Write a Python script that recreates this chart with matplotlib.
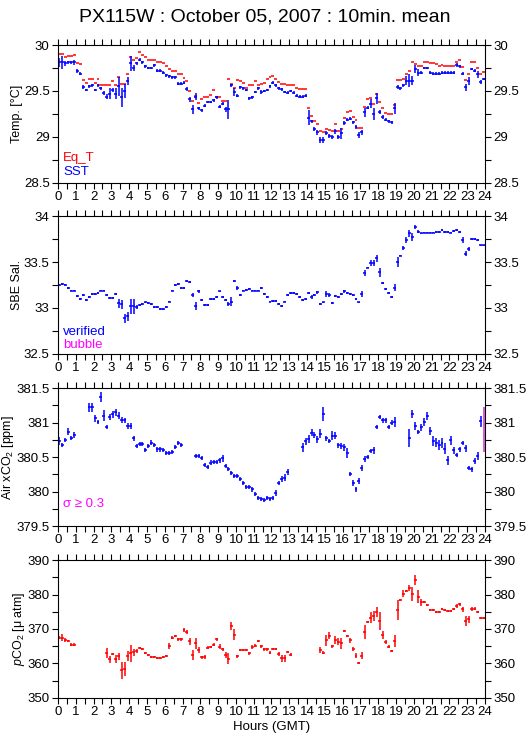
import numpy as np
import matplotlib
matplotlib.use("Agg")
import matplotlib.pyplot as plt
from matplotlib.ticker import MultipleLocator, FuncFormatter

plt.rcParams['font.family'] = ['Liberation Sans', 'DejaVu Sans']
plt.rcParams['mathtext.fontset'] = 'custom'
plt.rcParams['mathtext.rm'] = 'Liberation Sans'
plt.rcParams['mathtext.it'] = 'Liberation Sans:italic'

nan = np.nan

# 10 minute bins, one row per hour
hours = (np.arange(144) + 0.5) / 6.0

eq_t = [
    29.90, 29.90, 29.87, 29.88, 29.88, 29.89,
    29.80, 29.79, 29.62, 29.59, 29.63, 29.63,
    29.59, 29.63, 29.57, 29.56, 29.56, 29.56,
    29.61, 29.56, 29.65, 29.58, 29.58, 29.69,
    29.87, 29.84, 29.86, 29.92, 29.89, 29.87,
    29.84, 29.84, 29.84, 29.82, 29.81, 29.80,
    29.77, 29.74, 29.72, 29.72, 29.68, 29.69,
    29.64, 29.61, 29.50, 29.39, 29.45, 29.37,
    29.41, 29.43, 29.44, 29.46, 29.51, 29.43,
    29.43, 29.39, 29.39, 29.63, 29.58, 29.53,
    29.62, 29.61, 29.59, 29.53, 29.56, 29.56,
    29.61, 29.57, 29.58, 29.59, 29.63, 29.65,
    29.66, 29.63, 29.60, 29.58, 29.58, 29.56,
    29.57, 29.56, 29.53, 29.52, 29.52, 29.52,
    29.31, 29.23, 29.17, 29.14, 29.06, 29.05,
    29.09, 29.08, 29.07, 29.14, 29.07, 29.09,
    29.21, 29.27, 29.28, 29.22, 29.19, 29.10,
    29.10, 29.33, 29.41, 29.42, 29.36, 29.47,
    29.38, 29.31, 29.26, 29.25, 29.25, 29.35,
    29.62, 29.62, 29.63, 29.68, 29.72, 29.81,
    29.79, 29.77, 29.77, 29.82, 29.82, 29.80,
    29.80, 29.79, 29.77, 29.78, 29.77, 29.77,
    29.77, 29.77, 29.81, 29.84, 29.76, 29.62,
    29.69, 29.81, 29.81, 29.75, 29.68, 29.71,
]

sst = [
    29.81, 29.81, 29.80, 29.81, 29.81, 29.81,
    29.72, 29.69, 29.54, 29.51, 29.55, 29.56,
    29.51, 29.56, 29.53, 29.48, 29.44, 29.47,
    29.51, 29.47, 29.55, 29.43, 29.50, 29.61,
    29.80, 29.75, 29.80, 29.84, 29.81, 29.77,
    29.75, 29.75, 29.78, 29.72, 29.72, 29.70,
    29.67, 29.66, 29.65, 29.65, 29.58, 29.58,
    29.59, 29.52, 29.41, 29.30, 29.44, 29.31,
    29.29, 29.34, 29.38, 29.38, 29.40, 29.43,
    29.33, 29.36, 29.30, 29.30, 29.56, 29.49,
    29.45, 29.54, 29.53, 29.51, 29.42, 29.43,
    29.49, 29.53, 29.49, 29.50, 29.51, 29.55,
    29.59, 29.56, 29.53, 29.52, 29.49, 29.48,
    29.50, 29.48, 29.45, 29.44, 29.44, 29.45,
    29.21, 29.17, 29.09, 29.05, 28.97, 28.97,
    29.04, 29.01, 29.00, 29.06, 29.00, 29.04,
    29.15, 29.19, 29.20, 29.16, 29.11, 29.02,
    29.05, 29.27, 29.32, 29.36, 29.25, 29.42,
    29.27, 29.22, 29.19, 29.17, 29.16, 29.31,
    29.54, 29.53, 29.56, 29.61, 29.61, 29.61,
    29.74, 29.70, 29.70, 29.75, 29.75, 29.70,
    29.69, 29.69, 29.69, 29.70, 29.70, 29.70,
    29.70, 29.70, 29.78, 29.77, 29.69, 29.54,
    29.61, 29.74, 29.72, 29.68, 29.60, 29.63,
]

sst_err = [
    0.05, 0.07, 0.03, 0.015, 0.015, 0.03,
    0.02, 0.02, 0.02, 0.015, 0.015, 0.015,
    0.015, 0.015, 0.015, 0.02, 0.03, 0.06,
    0.02, 0.06, 0.10, 0.10, 0.08, 0.04,
    0.08, 0.03, 0.015, 0.015, 0.015, 0.015,
    0.015, 0.015, 0.015, 0.015, 0.015, 0.015,
    0.015, 0.015, 0.015, 0.015, 0.015, 0.015,
    0.015, 0.02, 0.03, 0.05, 0.04, 0.015,
    0.015, 0.015, 0.015, 0.015, 0.015, 0.015,
    0.02, 0.015, 0.03, 0.10, 0.02, 0.04,
    0.02, 0.015, 0.015, 0.015, 0.015, 0.015,
    0.015, 0.015, 0.02, 0.015, 0.015, 0.015,
    0.015, 0.015, 0.015, 0.015, 0.015, 0.015,
    0.015, 0.015, 0.015, 0.015, 0.015, 0.015,
    0.08, 0.015, 0.02, 0.03, 0.03, 0.03,
    0.02, 0.02, 0.02, 0.03, 0.02, 0.06,
    0.02, 0.015, 0.015, 0.015, 0.02, 0.03,
    0.03, 0.05, 0.02, 0.05, 0.06, 0.06,
    0.02, 0.02, 0.015, 0.015, 0.015, 0.06,
    0.02, 0.015, 0.02, 0.05, 0.07, 0.05,
    0.04, 0.04, 0.015, 0.015, 0.015, 0.015,
    0.015, 0.015, 0.015, 0.015, 0.015, 0.015,
    0.015, 0.015, 0.02, 0.015, 0.02, 0.04,
    0.04, 0.015, 0.015, 0.04, 0.02, 0.015,
]

sal = [
    33.25, 33.26, 33.25, 33.22, 33.19, 33.19,
    33.13, 33.10, 33.14, 33.09, 33.12, 33.15,
    33.15, 33.16, 33.19, 33.19, 33.14, 33.11,
    33.11, 33.15, 33.05, 33.04, 32.89, 32.91,
    33.02, 33.02, 33.01, 33.03, 33.04, 33.06,
    33.05, 33.04, 33.01, 33.01, 32.99, 32.99,
    33.01, 33.07, 33.19, 33.25, 33.26, 33.22,
    33.22, 33.29, 33.28, 33.14, 33.02, 33.18,
    33.09, 33.03, 33.03, 33.10, 33.10, 33.12,
    33.18, 33.12, 33.09, 33.04, 33.07, 33.29,
    33.22, 33.14, 33.19, 33.20, 33.21, 33.19,
    33.19, 33.19, 33.22, 33.15, 33.12, 33.07,
    33.08, 33.08, 33.04, 33.02, 33.07, 33.14,
    33.16, 33.16, 33.15, 33.12, 33.09, 33.10,
    33.16, 33.12, 33.14, 33.17, 33.04, 33.06,
    33.15, 33.14, 33.05, 33.13, 33.12, 33.15,
    33.18, 33.16, 33.15, 33.14, 33.10, 33.06,
    33.15, 33.38, 33.44, 33.49, 33.49, 33.54,
    33.39, 33.27, 33.21, 33.16, 33.12, 33.22,
    33.50, 33.57, 33.65, 33.74, 33.81, 33.77,
    33.88, 33.83, 33.81, 33.82, 33.82, 33.82,
    33.82, 33.83, 33.83, 33.85, 33.83, 33.83,
    33.82, 33.84, 33.85, 33.83, 33.74, 33.59,
    33.64, 33.75, 33.75, 33.74, 33.68, 33.68,
]

sal_err = [
    0.01, 0.01, 0.01, 0.01, 0.01, 0.01,
    0.01, 0.01, 0.01, 0.01, 0.01, 0.01,
    0.01, 0.01, 0.01, 0.01, 0.01, 0.01,
    0.01, 0.01, 0.05, 0.05, 0.05, 0.05,
    0.08, 0.08, 0.02, 0.01, 0.01, 0.01,
    0.01, 0.01, 0.01, 0.01, 0.01, 0.01,
    0.01, 0.01, 0.01, 0.01, 0.01, 0.01,
    0.01, 0.01, 0.01, 0.02, 0.04, 0.02,
    0.01, 0.01, 0.01, 0.01, 0.01, 0.01,
    0.01, 0.01, 0.01, 0.02, 0.05, 0.01,
    0.02, 0.01, 0.01, 0.01, 0.01, 0.01,
    0.01, 0.01, 0.01, 0.01, 0.01, 0.01,
    0.01, 0.01, 0.01, 0.01, 0.01, 0.01,
    0.01, 0.01, 0.01, 0.01, 0.01, 0.01,
    0.01, 0.02, 0.01, 0.02, 0.01, 0.01,
    0.03, 0.02, 0.01, 0.01, 0.01, 0.01,
    0.02, 0.01, 0.01, 0.01, 0.01, 0.01,
    0.03, 0.03, 0.01, 0.03, 0.03, 0.04,
    0.05, 0.01, 0.01, 0.01, 0.01, 0.04,
    0.05, 0.01, 0.02, 0.03, 0.04, 0.04,
    0.02, 0.02, 0.01, 0.01, 0.01, 0.01,
    0.01, 0.01, 0.01, 0.01, 0.01, 0.01,
    0.01, 0.01, 0.01, 0.01, 0.03, 0.03,
    0.02, 0.01, 0.01, 0.01, 0.01, 0.01,
]

xco2 = [
    380.73, 380.68, 380.75, 380.87, 380.78, 380.82,
    nan, nan, nan, nan, 381.22, 381.22,
    381.06, 381.01, 381.37, 381.10, 380.94, 381.08,
    381.12, 381.15, 381.10, 381.04, 381.03, 380.95,
    380.95, 380.77, 380.66, 380.69, 380.69, 380.60,
    380.66, 380.71, 380.67, 380.61, 380.61, 380.60,
    380.56, 380.56, 380.57, 380.64, 380.70, 380.67,
    nan, nan, nan, nan, 380.52, 380.52,
    380.48, 380.38, 380.36, 380.42, 380.43, 380.43,
    380.45, 380.48, 380.37, 380.33, 380.27, 380.22,
    380.22, 380.18, 380.12, 380.06, 380.06, 380.03,
    379.96, 379.91, 379.89, 379.88, 379.90, 379.89,
    379.90, 379.98, 380.12, 380.18, 380.20, 380.28,
    nan, nan, nan, nan, 380.64, 380.73,
    380.76, 380.85, 380.82, 380.76, 380.84, 381.12,
    380.77, 380.73, 380.81, 380.81, 380.67, 380.66,
    380.64, 380.56, 380.26, 380.12, 380.03, 380.15,
    380.34, 380.47, 380.50, 380.59, 380.60, 380.93,
    381.08, 381.03, 381.03, 380.93, 381.00, 381.01,
    nan, nan, nan, nan, 380.77, 381.12,
    380.95, 380.86, 380.93, 381.01, 381.10, 380.88,
    380.73, 380.71, 380.67, 380.70, 380.62, 380.45,
    380.74, 380.60, 380.53, 380.61, 380.70, 380.63,
    380.34, 380.32, 380.44, 380.52, 381.02, 380.90,
]

xco2_err = [
    0.06, 0.03, 0.03, 0.05, 0.03, 0.04,
    0, 0, 0, 0, 0.07, 0.07,
    0.05, 0.03, 0.07, 0.08, 0.03, 0.05,
    0.05, 0.05, 0.05, 0.04, 0.04, 0.04,
    0.04, 0.04, 0.03, 0.03, 0.03, 0.03,
    0.03, 0.03, 0.03, 0.03, 0.03, 0.03,
    0.03, 0.03, 0.03, 0.03, 0.03, 0.03,
    0, 0, 0, 0, 0.03, 0.03,
    0.03, 0.03, 0.03, 0.03, 0.03, 0.03,
    0.04, 0.05, 0.03, 0.03, 0.03, 0.03,
    0.03, 0.03, 0.03, 0.03, 0.03, 0.03,
    0.03, 0.03, 0.03, 0.03, 0.03, 0.03,
    0.03, 0.04, 0.03, 0.04, 0.05, 0.04,
    0, 0, 0, 0, 0.06, 0.05,
    0.06, 0.05, 0.05, 0.05, 0.06, 0.10,
    0.04, 0.03, 0.07, 0.05, 0.04, 0.04,
    0.05, 0.07, 0.03, 0.04, 0.03, 0.04,
    0.04, 0.04, 0.03, 0.03, 0.05, 0.03,
    0.03, 0.03, 0.03, 0.03, 0.04, 0.07,
    0, 0, 0, 0, 0.13, 0.06,
    0.06, 0.03, 0.05, 0.06, 0.06, 0.06,
    0.07, 0.06, 0.07, 0.07, 0.08, 0.07,
    0.07, 0.05, 0.03, 0.03, 0.03, 0.05,
    0.03, 0.03, 0.04, 0.06, 0.08, 0.33,
]

pco2 = [
    367.5, 367.5, 366.8, 366.5, 365.5, 365.5,
    nan, nan, nan, nan, nan, nan,
    nan, nan, nan, nan, 363.1, 361.2,
    362.8, 361.2, 362.1, 358.0, 358.4, 362.1,
    362.9, 363.3, 363.6, 364.6, 364.3, 363.1,
    362.4, 362.0, 362.0, 361.5, 361.5, 361.9,
    362.3, 365.0, 367.5, 368.1, 367.0, 367.0,
    369.7, 369.1, 366.5, 362.4, 365.8, 363.9,
    361.8, 361.9, 364.6, 364.8, 365.5, 367.0,
    364.9, 364.1, 362.4, 361.4, 370.9, 368.4,
    362.1, 363.9, 363.9, 363.9, 362.9, 364.8,
    365.2, 366.5, 365.0, 364.1, 364.1, 363.1,
    364.1, 364.1, 362.8, 361.5, 361.5, 363.4,
    362.6, nan, nan, nan, nan, nan,
    nan, nan, nan, nan, 363.9, 363.1,
    366.7, 368.0, 365.0, 366.9, 366.3, 365.8,
    369.4, 368.1, 366.7, 364.3, 362.3, 360.2,
    362.3, 369.1, 372.1, 373.3, 373.8, 375.0,
    372.3, 368.3, 366.2, 364.9, 363.6, 366.5,
    375.5, 378.4, 380.2, 381.0, 381.9, 380.2,
    384.3, 379.4, 377.7, 377.7, 377.0, 375.4,
    375.4, 374.9, 374.9, 375.7, 375.4, 375.2,
    375.2, 375.9, 376.7, 377.2, 375.7, 372.3,
    372.8, 375.7, 375.9, 374.9, 373.1, 373.1,
]

pco2_err = [
    0.4, 1.0, 0.6, 0.4, 0.4, 0.4,
    0, 0, 0, 0, 0, 0,
    0, 0, 0, 0, 1.5, 1.0,
    0.3, 1.2, 1.0, 2.5, 2.0, 1.5,
    2.5, 1.0, 0.6, 0.3, 0.3, 0.3,
    0.3, 0.3, 0.3, 0.3, 0.3, 0.3,
    0.3, 0.8, 0.5, 0.3, 0.4, 0.4,
    0.6, 0.5, 1.0, 1.5, 1.5, 1.0,
    0.4, 0.6, 0.4, 0.3, 0.4, 0.5,
    0.8, 0.4, 0.8, 1.5, 1.2, 1.5,
    0.5, 0.3, 0.3, 0.3, 0.4, 0.5,
    0.4, 0.4, 0.5, 0.4, 0.4, 0.4,
    0.3, 0.3, 0.5, 1.0, 1.0, 0.3,
    0.3, 0, 0, 0, 0, 0,
    0, 0, 0, 0, 0.8, 0.4,
    1.5, 1.0, 0.4, 1.2, 1.0, 1.5,
    0.4, 0.3, 0.8, 0.6, 0.8, 0.3,
    1.0, 2.0, 0.3, 1.5, 1.5, 1.5,
    2.5, 1.2, 0.6, 0.4, 0.3, 1.8,
    3.0, 0.4, 1.0, 0.4, 0.8, 2.0,
    1.5, 2.0, 1.0, 0.3, 0.3, 0.3,
    0.3, 0.3, 0.3, 0.3, 0.3, 0.3,
    0.3, 0.3, 0.5, 0.4, 0.8, 1.5,
    1.0, 0.6, 0.4, 0.3, 0.3, 0.3,
]

BLUE = '#0000ff'
RED = '#ff0000'
MAGENTA = '#ff00ff'
half_bin = 1.0 / 12.0


def setup(ax, ylim, major, ylabel):
    ax.set_xlim(0, 24)
    ax.set_ylim(*ylim)
    ax.xaxis.set_major_locator(MultipleLocator(1))
    ax.xaxis.set_minor_locator(MultipleLocator(0.5))
    ax.yaxis.set_major_locator(MultipleLocator(major))
    ax.yaxis.set_minor_locator(MultipleLocator(major / 2))
    ax.yaxis.set_major_formatter(FuncFormatter(lambda v, p: '%g' % v))
    ax.tick_params(which='both', direction='out', top=True, right=True,
                   labelright=True, labelsize=9.5, width=0.8, pad=2)
    ax.tick_params(which='major', length=4)
    ax.tick_params(which='minor', length=4)
    for s in ax.spines.values():
        s.set_linewidth(0.8)
    ax.set_ylabel(ylabel, fontsize=9, labelpad=0.5)


def crosses(ax, x, y, yerr, color):
    ax.errorbar(x, y, xerr=half_bin, yerr=yerr, fmt='none', ecolor=color,
                elinewidth=1.1, capsize=0)


fig = plt.figure(figsize=(5.29, 7.39), dpi=100)
fig.text(0.5, 0.989, 'PX115W : October 05, 2007 : 10min. mean',
         ha='center', va='top', fontsize=14)

left, width, height = 0.1096, 0.8072, 0.1867
bottoms = [0.7524, 0.5210, 0.2882, 0.0555]
axes = [fig.add_axes([left, b, width, height]) for b in bottoms]

# temperature
ax = axes[0]
ax.errorbar(hours, eq_t, xerr=half_bin, fmt='none', ecolor=RED,
            elinewidth=1.1, capsize=0)
crosses(ax, hours, sst, sst_err, BLUE)
setup(ax, (28.5, 30), 0.5, 'Temp. [°C]')
ax.text(0.012, 0.18, 'Eq_T', color=RED, transform=ax.transAxes, fontsize=9.5, va='center')
ax.text(0.012, 0.08, 'SST', color=BLUE, transform=ax.transAxes, fontsize=9.5, va='center')

# salinity
ax = axes[1]
crosses(ax, hours, sal, sal_err, BLUE)
setup(ax, (32.5, 34), 0.5, 'SBE Sal.')
ax.text(0.012, 0.16, 'verified', color=BLUE, transform=ax.transAxes, fontsize=9.5, va='center')
ax.text(0.012, 0.065, 'bubble', color=MAGENTA, transform=ax.transAxes, fontsize=9.5, va='center')

# air xCO2, flag points with sigma >= 0.3
ax = axes[2]
xa = np.array(xco2)
ea = np.array(xco2_err)
bad = ea >= 0.3
crosses(ax, hours[~bad], xa[~bad], ea[~bad], BLUE)
ax.errorbar(hours[bad], xa[bad], yerr=ea[bad], fmt='none', ecolor='#cc33cc',
            elinewidth=1.1, capsize=0)
setup(ax, (379.5, 381.5), 0.5, 'Air xCO$_2$ [ppm]')
ax.text(0.012, 0.16, 'σ ≥ 0.3', color=MAGENTA, transform=ax.transAxes, fontsize=9.5, va='center')

# pCO2
ax = axes[3]
crosses(ax, hours, pco2, pco2_err, RED)
setup(ax, (350, 390), 10, '$p$CO$_2$ [μ atm]')
ax.set_xlabel('Hours (GMT)', fontsize=9.5, labelpad=2)

fig.savefig('out.png', dpi=100)
